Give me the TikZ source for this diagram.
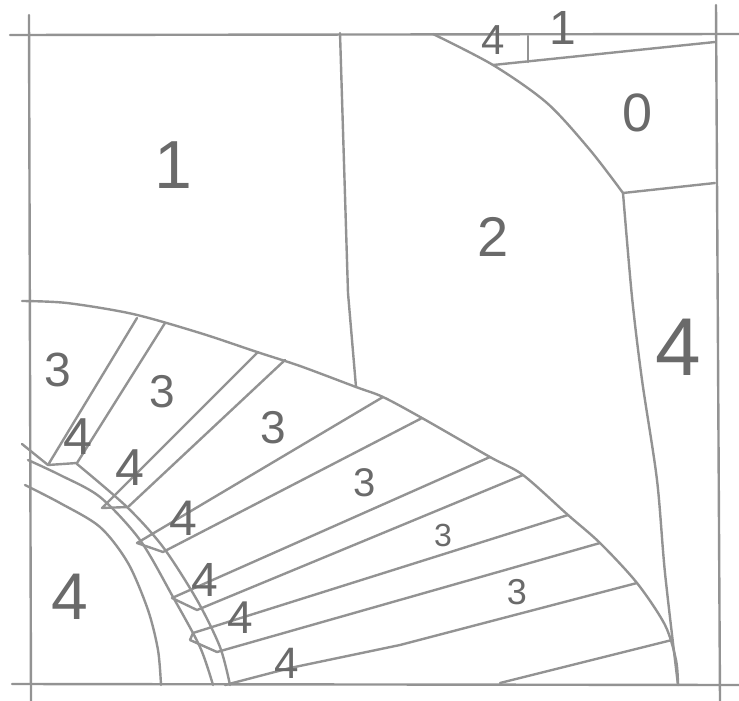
\documentclass[tikz,border=0pt]{standalone}
\usepackage{fontspec}
\setmainfont{Liberation Sans}
\definecolor{pencil}{HTML}{939393}
\definecolor{lead}{HTML}{6A6A6A}
\tikzset{
  pen/.style={draw=pencil, line width=2.4pt, line cap=round, line join=round},
  lbl/.style={text=lead, inner sep=0pt, anchor=center},
}
\newcommand{\fs}[1]{\fontsize{#1}{#1}\selectfont}
\begin{document}
\begin{tikzpicture}[x=1pt,y=-1pt]
\useasboundingbox (0,0) rectangle (739,701);
% outer frame
\draw[pen] (10,35) -- (739,34);
\draw[pen] (29,15) -- (31,701);
\draw[pen] (716,5) -- (720,701);
\draw[pen] (12,684) -- (739,685);
% top-left division
\draw[pen] (340,33) -- (348,293) -- (356,387);
% top-right arc and pieces
\draw[pen] plot[smooth] coordinates {(433,34) (493,65) (547,103) (590,150) (623,193)};
\draw[pen] (493,65) -- (715,42);
\draw[pen] (528,36) -- (528,62);
\draw[pen] (623,193) -- (715,183);
\draw[pen] plot[smooth] coordinates {(623,193) (632,297) (642,380) (657,480) (665,573) (678,685)};
% big arc
\draw[pen] plot[smooth] coordinates {(22,301) (67,303) (133,314) (200,333) (257,352) (300,366) (356,387) (383,397) (422,418) (490,457) (523,475) (568,515) (600,543) (637,583) (665,625) (676,660) (678,685)};
% inner arcs
\draw[pen] plot[smooth] coordinates {(25,485) (60,503) (100,527) (128,563) (148,610) (158,650) (161,685)};
\draw[pen] plot[smooth] coordinates {(28,460) (60,475) (100,497) (140,540) (173,597) (200,647) (213,685)};
\draw[pen] (22,444) -- (48,465);
\draw[pen] plot[smooth] coordinates {(77,464) (127,507) (163,547) (197,600) (220,647) (230,685)};
% fan rays (pairs) with cross segments
\draw[pen] (137,318) -- (48,465) -- (77,463) -- (165,323);
\draw[pen] (258,352) -- (102,508) -- (128,507) -- (285,360);
\draw[pen] (383,397) -- (137,543) -- (163,552) -- (422,418);
\draw[pen] (490,457) -- (172,598) -- (197,610) -- (523,475);
\draw[pen] (568,515) -- (193,633) -- (190,640) -- (217,652) -- (600,543);
\draw[pen] (637,583) -- (400,645) -- (290,668) -- (225,685);
\draw[pen] (672,640) -- (500,683);
% labels
\node[lbl, font=\fs{68}] (l1) at (173,165) {1};
\node[lbl, font=\fs{56}] (l2) at (493,237) {2};
\node[lbl, font=\fs{54}] (l0) at (638,113) {0};
\node[lbl, font=\fs{82}] (l4r) at (678,347) {4};
\node[lbl, font=\fs{42}] (l4t) at (493,40) {4};
\node[lbl, font=\fs{48}] (l1t) at (563,28) {1};
\node[lbl, font=\fs{66}] (l4bl) at (70,597) {4};
\node[lbl, font=\fs{48}] (t1) at (58,370) {3};
\node[lbl, font=\fs{46}] (t2) at (162,392) {3};
\node[lbl, font=\fs{46}] (t3) at (273,428) {3};
\node[lbl, font=\fs{40}] (t4) at (365,483) {3};
\node[lbl, font=\fs{32}] (t5) at (443,535) {3};
\node[lbl, font=\fs{36}] (t6) at (517,592) {3};
\node[lbl, font=\fs{52}] (f1) at (78,437) {4};
\node[lbl, font=\fs{52}] (f2) at (130,468) {4};
\node[lbl, font=\fs{50}] (f3) at (183,518) {4};
\node[lbl, font=\fs{48}] (f4) at (205,580) {4};
\node[lbl, font=\fs{46}] (f5) at (240,618) {4};
\node[lbl, font=\fs{44}] (f6) at (287,663) {4};
\end{tikzpicture}
\end{document}
